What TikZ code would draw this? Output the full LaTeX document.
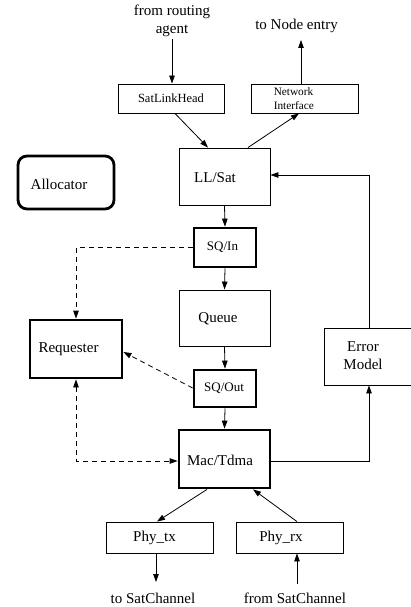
\documentclass[tikz,border=0pt]{standalone}
\usepackage{fontspec}
\setmainfont{Liberation Serif}
\usetikzlibrary{arrows.meta}
\begin{document}
\begin{tikzpicture}[x=1pt,y=-1pt,
  box/.style={draw, line width=0.9pt, rectangle, inner sep=0pt},
  thickbox/.style={box, line width=2.8pt},
  big/.style={font=\fontsize{15}{18}\selectfont, inner sep=0pt},
  mid/.style={font=\fontsize{13}{15}\selectfont, inner sep=0pt},
  arr/.style={line width=0.8pt, -{Triangle[length=8pt,width=5.5pt]}},
  dashline/.style={line width=0.8pt, dash pattern=on 5pt off 4pt}
]
\clip (0,0) rectangle (411,607);
\useasboundingbox (0,0) rectangle (411,607);

% free labels
\node[big, align=center] (src) at (172,21) {from routing\\agent};
\node[big] (dst) at (296.5,26) {to Node entry};
\node[big] (tsc) at (153,598) {to SatChannel};
\node[big] (fsc) at (295,598) {from SatChannel};

% boxes
\node[box, minimum width=106pt, minimum height=29pt,
  label={[font=\fontsize{12.5}{14}\selectfont, inner sep=0pt]center:SatLinkHead}] (slh) at (171,98.5) {};
\node[box, minimum width=107pt, minimum height=29pt,
  label={[font=\fontsize{11.3}{14.7}\selectfont, inner sep=0pt, align=left, anchor=west, xshift=23pt]west:Network\\Interface}] (ni) at (304.5,98.5) {};
\node[box, minimum width=91pt, minimum height=57pt,
  label={[big, xshift=-9.5pt, yshift=-1.5pt]center:LL/Sat}] (ll) at (224.5,176.5) {};
\node[thickbox, rounded corners=9pt, minimum width=96pt, minimum height=53pt,
  label={[big, xshift=-7pt, yshift=-1.5pt]center:Allocator}] (alloc) at (66,182.5) {};
\node[thickbox, minimum width=62pt, minimum height=39pt,
  label={[mid, xshift=-2.5pt]center:SQ/In}] (sqin) at (225,247.5) {};
\node[box, minimum width=91pt, minimum height=56pt,
  label={[big, xshift=-6.5pt, yshift=-1pt]center:Queue}] (queue) at (224.5,318) {};
\node[thickbox, minimum width=62pt, minimum height=37pt,
  label={[mid, xshift=-1pt]center:SQ/Out}] (sqout) at (225,388.5) {};
\node[thickbox, minimum width=92pt, minimum height=58pt,
  label={[big, xshift=-7.5pt]center:Requester}] (req) at (76,349) {};
\node[box, minimum width=100pt, minimum height=57pt,
  label={[big, align=center, xshift=-11pt, yshift=1pt]center:Error\\Model}] (em) at (374,356.5) {};
\node[thickbox, minimum width=91pt, minimum height=58pt,
  label={[big, xshift=-4.5pt, yshift=-1pt]center:Mac/Tdma}] (mac) at (224.5,459) {};
\node[box, minimum width=107pt, minimum height=31pt,
  label={[big, xshift=-5pt]center:Phy\_tx}] (ptx) at (159.5,537.5) {};
\node[box, minimum width=107pt, minimum height=31pt,
  label={[big, xshift=-8.5pt]center:Phy\_rx}] (prx) at (289.5,537.5) {};

% free ends
\coordinate (tnode) at (301,40);
\coordinate (tch) at (156,582);
\coordinate (fch) at (297,584);

% connectors
\draw[arr, shorten <=2pt] (src.south) -- (src.south |- slh.north);
\draw[arr] ([xshift=-3.5pt]ni.north) -- (tnode);
\draw[arr] ([xshift=4pt]slh.south) -- ([xshift=-16.5pt]ll.north);
\draw[arr] ([xshift=23.5pt]ll.north) -- ([xshift=-5.5pt]ni.south);
\draw[arr] (ll.south) -- (sqin.north);
\draw[arr] (sqin.south) -- (queue.north);
\draw[arr] (queue.south) -- (sqout.north);
\draw[arr] (sqout.south) -- (mac.north);
\draw[arr] ([xshift=-5pt]em.north) |- ([yshift=1.5pt]ll.east);
\draw[arr] ([yshift=-2pt]mac.east) -| ([xshift=-5pt]em.south);
\draw[dashline, -{Triangle[length=8pt,width=5.5pt]}] (sqin.west) -| (req.north);
\draw[dashline, -{Triangle[length=8pt,width=5.5pt]}] ([yshift=0.5pt]sqout.west) -- ([yshift=-3pt]req.east);
\draw[dashline, {Triangle[length=8pt,width=5.5pt]}-{Triangle[length=8pt,width=5.5pt]}] (req.south) |- ([yshift=-2pt]mac.west);
\draw[arr] ([xshift=-17.5pt]mac.south) -- ([xshift=-2.5pt]ptx.north);
\draw[arr] ([xshift=7.5pt]prx.north) -- ([xshift=28.5pt]mac.south);
\draw[arr] (ptx.south -| tch) -- (tch);
\draw[arr] (fch) -- (prx.south -| fch);
\end{tikzpicture}
\end{document}
